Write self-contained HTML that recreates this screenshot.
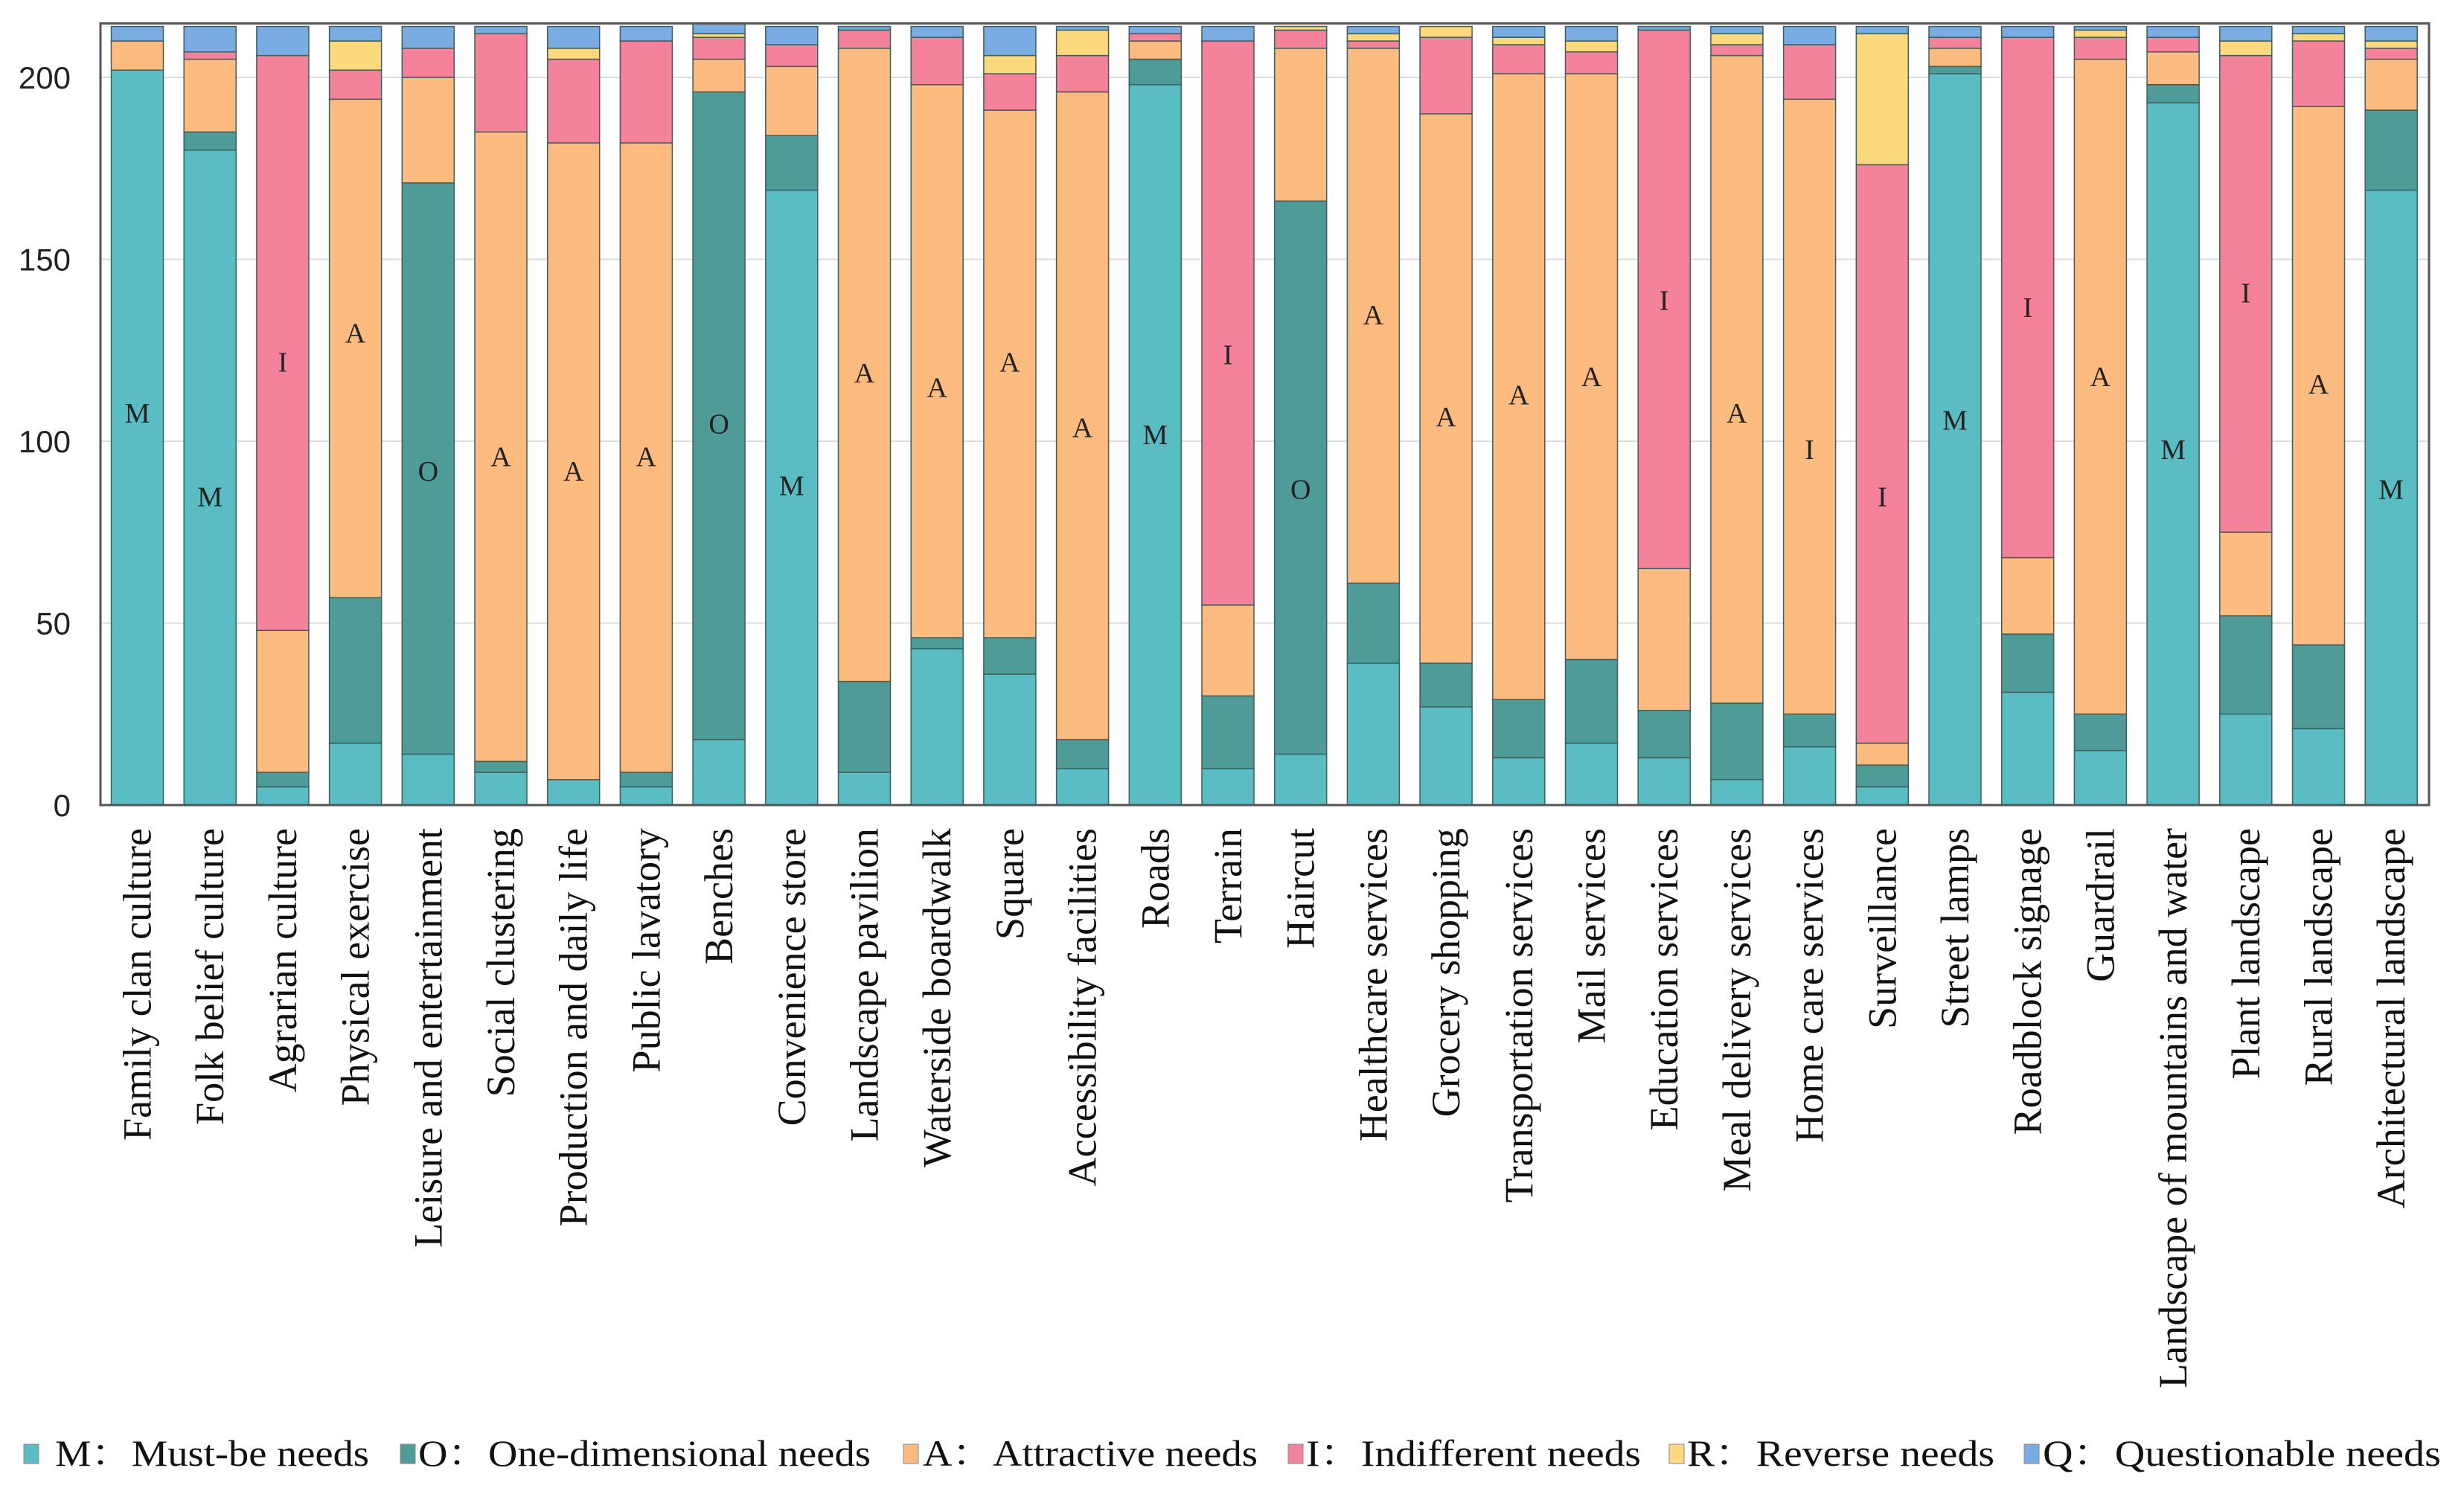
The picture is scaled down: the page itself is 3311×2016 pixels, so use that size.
<!DOCTYPE html>
<html><head><meta charset="utf-8"><style>
html,body{margin:0;padding:0;background:#fff}
svg{display:block}
</style></head><body>
<svg id="chart" width="3311" height="2016" viewBox="0 0 3311 2016" xmlns="http://www.w3.org/2000/svg">
<g id="grid"></g>
<g id="bars"></g>
<g id="labels"></g>
<rect x="135" y="31.5" width="3129" height="1050.5" fill="none" stroke="#555" stroke-width="3"/>
<g id="yticks"></g>
<g id="xticks"></g>
<g id="legend"></g>
</svg>
<script>
const categories = ["Family clan culture","Folk belief culture","Agrarian culture","Physical exercise","Leisure and entertainment","Social clustering","Production and daily life","Public lavatory","Benches","Convenience store","Landscape pavilion","Waterside boardwalk","Square","Accessibility facilities","Roads","Terrain","Haircut","Healthcare services","Grocery shopping","Transportation services","Mail services","Education services","Meal delivery services","Home care services","Surveillance","Street lamps","Roadblock signage","Guardrail","Landscape of mountains and water","Plant landscape","Rural landscape","Architectural landscape"];
const mustBe = [202,180,5,17,14,9,7,5,18,169,9,43,36,10,198,10,14,39,27,13,17,13,7,16,5,201,31,15,193,25,21,169];
const oneDim = [0,5,4,40,157,3,0,4,178,15,25,3,10,8,7,20,152,22,12,16,23,13,21,9,6,2,16,10,5,27,23,22];
const attractive = [8,20,39,137,29,173,175,173,9,19,174,152,145,178,5,25,42,147,151,172,161,39,178,169,6,5,21,180,9,23,148,14];
const indifferent = [0,2,158,8,8,27,23,28,6,6,5,13,10,10,2,155,5,2,21,8,6,148,3,15,159,3,143,6,4,131,18,3];
const reverse = [0,0,0,8,0,0,3,0,1,0,0,0,5,7,0,0,1,2,3,2,3,0,3,0,36,0,0,2,0,4,2,2];
const questionable = [4,7,8,4,6,2,6,4,3,5,1,3,8,1,2,4,0,2,0,3,4,1,2,5,2,3,3,1,3,4,2,4];
const labelLetters = ["M","M","I","A","O","A","A","A","O","M","A","A","A","A","M","I","O","A","A","A","A","I","A","I","I","M","I","A","M","I","A","M"];
const labelValues = [108,85,122,130,92,96,92,96,105,88,119,115,122,104,102,124,87,135,107,113,118,139,108,98,85,106,137,118,98,141,116,87];
const yTicks = [0,50,100,150,200];
const seriesNames = ["M：Must-be needs","O：One-dimensional needs","A：Attractive needs","I：Indifferent needs","R：Reverse needs","Q：Questionable needs"];

const NS="http://www.w3.org/2000/svg";
const colors=["#5bbdc4","#4f9b98","#fdbb7f","#f4829b","#fdd97d","#79ace2"];
const series=[mustBe,oneDim,attractive,indifferent,reverse,questionable];
const seriesKeys=["m","o","a","i","r","q"];
const y0=1082, pxPerUnit=4.89, x0=184.5, pitch=97.7, bw=70;
function yS(v){return y0-v*pxPerUnit;}
function xS(i){return x0+i*pitch;}
function mk(tag,attrs,parent){const e=document.createElementNS(NS,tag);for(const k in attrs)e.setAttribute(k,attrs[k]);parent.appendChild(e);return e;}

const grid=document.getElementById('grid'), yt=document.getElementById('yticks');
yTicks.forEach(t=>{
  if(t>0){const l=mk('line',{x1:135,x2:3264,y1:yS(t),y2:yS(t),stroke:'#dcdcdc','stroke-width':2},grid);
  
  }
  const tx=mk('text',{x:95,y:yS(t)+15,'text-anchor':'end','font-family':'Liberation Sans, sans-serif','font-size':42,fill:'#222'},yt);
  tx.textContent=t;
  
  
});

const bars=document.getElementById('bars'), labs=document.getElementById('labels'), xt=document.getElementById('xticks');
categories.forEach((c,i)=>{
  let cum=0;
  series.forEach((s,k)=>{
    const v=s[i]; if(v<=0) return;
    const r=mk('rect',{x:xS(i)-bw/2,y:yS(cum+v),width:bw,height:v*pxPerUnit,fill:colors[k],stroke:'#3d5f5f','stroke-width':1.5},bars);
    
    
    cum+=v;
  });
  const lt=mk('text',{x:xS(i),y:yS(labelValues[i])+14,'text-anchor':'middle','font-family':'Liberation Serif, serif','font-size':38,fill:'#222'},labs);
  lt.textContent=labelLetters[i];
  
  
  const xl=mk('text',{transform:'translate('+(xS(i)+18)+',1113) rotate(-90)','text-anchor':'end','font-family':'Liberation Serif, serif','font-size':54,fill:'#111'},xt);
  xl.textContent=c;
  
  
});

const legend=document.getElementById('legend');
const legSq=[32,538,1214,1731,2243,2720];
const legTx=[[74,422],[562,608],[1240,450],[1755,450],[2267,413],[2745,535]];
seriesNames.forEach((n,k)=>{
  const g=mk('g',{},legend);
  
  
  mk('rect',{x:legSq[k],y:1941,width:20,height:26,fill:colors[k],stroke:'#888','stroke-width':1},g);
  const t=mk('text',{x:legTx[k][0],y:1970,'font-family':'Liberation Serif, "Noto Serif CJK SC", serif','font-size':50,fill:'#111',textLength:legTx[k][1],lengthAdjust:'spacingAndGlyphs'},g);
  t.textContent=n;
});
</script>
</body></html>
